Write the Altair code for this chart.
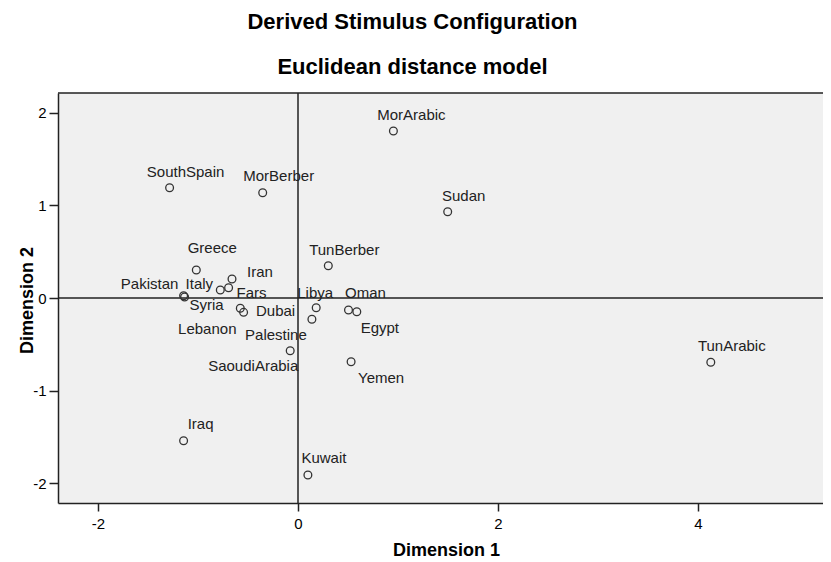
import altair as alt
import pandas as pd

# ---- data ----
names = ["MorArabic", "TunArabic", "SouthSpain", "MorBerber", "Sudan", "Greece",
         "TunBerber", "Iran", "Italy", "Fars", "Pakistan", "Syria", "Dubai",
         "Lebanon", "Libya", "Palestine", "Oman", "Egypt", "SaoudiArabia",
         "Yemen", "Iraq", "Kuwait"]
dim1 = [0.954, 4.128, -1.284, -0.353, 1.497, -1.017,
        0.303, -0.660, -0.777, -0.694, -1.144, -1.134, -0.544,
        -0.577, 0.182, 0.139, 0.505, 0.588, -0.078,
        0.531, -1.144, 0.099]
dim2 = [1.805, -0.695, 1.192, 1.138, 0.933, 0.303,
        0.349, 0.205, 0.086, 0.111, 0.025, 0.011, -0.155,
        -0.111, -0.105, -0.230, -0.130, -0.148, -0.570,
        -0.689, -1.543, -1.914]

x_ticks = [-2, 0, 2, 4]
y_ticks = [-2, -1, 0, 1, 2]

# ---- layout: label placement (pixel offsets from the point) ----
label_offsets = {
    "MorArabic": (18, -16), "TunArabic": (21, -16), "SouthSpain": (16, -16),
    "MorBerber": (16, -17), "Sudan": (16, -16), "Greece": (16, -22),
    "TunBerber": (16, -16), "Iran": (28, -7), "Italy": (-21, -6),
    "Fars": (23, 5), "Pakistan": (-34, -12), "Syria": (22, 8),
    "Dubai": (32, -1), "Lebanon": (-33, 21), "Libya": (-1, -15),
    "Palestine": (-36, 16), "Oman": (17, -17), "Egypt": (23, 16),
    "SaoudiArabia": (-37, 15), "Yemen": (30, 16), "Iraq": (17, -17),
    "Kuwait": (16, -17),
}

df = pd.DataFrame({"name": names, "dim1": dim1, "dim2": dim2})
one = pd.DataFrame({"a": [0]})

W, H = 765, 410
FONT = "Liberation Sans"
LINE = "#222222"
HYPHEN = "datum.value < 0 ? '-' + abs(datum.value) : '' + datum.value"

xscale = alt.Scale(domain=[-2.40, 5.25], nice=False, zero=False)
yscale = alt.Scale(domain=[-2.216, 2.216], nice=False, zero=False)

x_enc = alt.X("dim1:Q", scale=xscale, axis=alt.Axis(
    title="Dimension 1", values=x_ticks, labelExpr=HYPHEN, grid=False,
    domainColor=LINE, domainWidth=1.5, tickColor=LINE, tickWidth=1.5, tickSize=8,
    labelFont=FONT, labelFontSize=15, labelColor="black", labelPadding=5,
    titleFont=FONT, titleFontSize=18, titleFontWeight="bold", titleColor="black",
    titleX=388, titleY=47, titleBaseline="middle", titleAlign="center"))
y_enc = alt.Y("dim2:Q", scale=yscale, axis=alt.Axis(
    title="Dimension 2", values=y_ticks, labelExpr=HYPHEN, grid=False,
    domainColor=LINE, domainWidth=1.5, tickColor=LINE, tickWidth=1.5, tickSize=9,
    labelFont=FONT, labelFontSize=15, labelColor="black", labelPadding=3,
    titleFont=FONT, titleFontSize=18, titleFontWeight="bold", titleColor="black",
    titleAngle=270, titleX=-31, titleY=207, titleBaseline="middle", titleAlign="center"))

base = alt.Chart(df)

labels = []
for n in names:
    dx, dy = label_offsets[n]
    labels.append(
        base.transform_filter(alt.datum.name == n)
        .mark_text(dx=dx, dy=dy, font=FONT, fontSize=15, color="#222222",
                   align="center", baseline="middle")
        .encode(x=x_enc, y=y_enc, text="name:N")
    )

vline = alt.Chart(one).mark_rule(color=LINE, strokeWidth=1.5).encode(x=alt.datum(0))
hline = alt.Chart(one).mark_rule(color=LINE, strokeWidth=1.5).encode(y=alt.datum(0))
top_border = alt.Chart(one).mark_rule(color=LINE, strokeWidth=1.5).encode(
    x=alt.value(0), x2=alt.value(W), y=alt.value(0))

points = base.mark_point(shape="circle", filled=False, size=60, strokeWidth=1.3,
                         color="#333333", opacity=1).encode(x=x_enc, y=y_enc)

chart = alt.layer(*labels, vline, hline, points, top_border).properties(
    width=W, height=H,
    title=alt.TitleParams(
        text="Derived Stimulus Configuration", subtitle="Euclidean distance model",
        font=FONT, fontSize=22, fontWeight="bold", color="black",
        subtitleFont=FONT, subtitleFontSize=22, subtitleFontWeight="bold",
        subtitleColor="black", subtitlePadding=23,
        anchor="middle", frame="group", dx=-28, offset=13),
    autosize=alt.AutoSizeParams(type="none"),
    padding={"left": 50, "top": 85, "right": 0, "bottom": 60},
    background="white",
).configure_view(fill="#f0f0f0", stroke=None)

chart.save("out.html", embed_options={"renderer": "svg", "actions": False})
